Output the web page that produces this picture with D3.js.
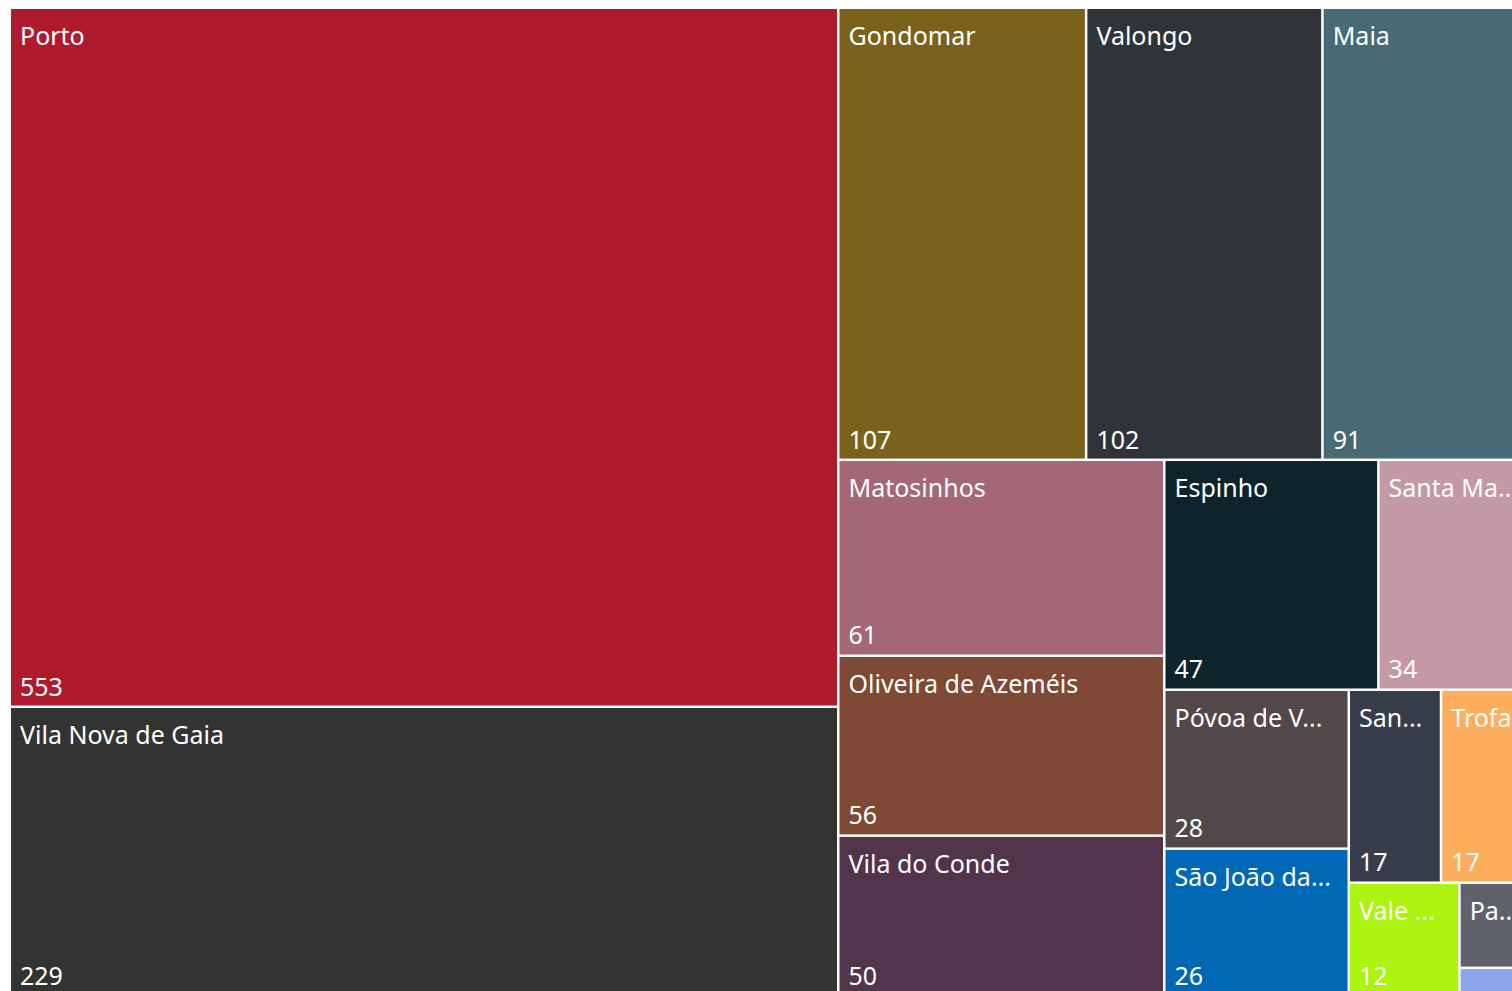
<!DOCTYPE html>
<html><head><meta charset="utf-8">
<script src="https://cdn.jsdelivr.net/npm/d3@7"></script>
<style>
html,body{margin:0;padding:0;background:#fff;overflow:hidden;}
svg{display:block;}
text{font-family:"Segoe UI","Noto Sans","Open Sans",sans-serif;fill:#fff;}
</style></head>
<body>
<svg id="chart" width="1512" height="991"></svg>
<script>
const categories = ["Porto","Vila Nova de Gaia","Gondomar","Valongo","Maia","Matosinhos","Oliveira de Azeméis","Vila do Conde","Espinho","Santa Maria da Feira","Póvoa de Varzim","São João da Madeira","Santo Tirso","Trofa","Vale de Cambra","Paredes","Arouca"];
const values = [553,229,107,102,91,61,56,50,47,34,28,26,17,17,12,6,2];
const colors = ["#B01A2D","#333333","#7A621D","#2E3438","#486A75","#A46777","#7E4A36","#52344D","#0D242C","#C499A6","#524849","#0068B5","#373D4A","#FCAE5C","#ACF40F","#5F626C","#8BA6EA"];

const X0 = 11, Y0 = 9, W = 1521, H = 986;
const svg = d3.select("#chart");
const data = {name:"root", children: categories.map((c,i)=>({name:c, value:values[i], color:colors[i]}))};
const root = d3.hierarchy(data).sum(d=>d.value||0).sort((a,b)=>b.value-a.value);
d3.treemap().tile(d3.treemapSquarify).size([W,H]).paddingInner(2.5).round(false)(root);

const g = svg.append("g").attr("transform",`translate(${X0},${Y0})`);
const leaf = g.selectAll("g.leaf").data(root.leaves()).join("g").attr("class","leaf")
  .attr("transform",d=>`translate(${d.x0},${d.y0})`);
leaf.append("rect").attr("width",d=>d.x1-d.x0).attr("height",d=>d.y1-d.y0).attr("fill",d=>d.data.color);

const FS = 25;
function fit(sel, txt, maxW){
  sel.text(txt);
  if (sel.node().getComputedTextLength() <= maxW) return;
  let s = txt;
  while (s.length>0){
    s = s.slice(0,-1);
    sel.text(s + "...");
    if (sel.node().getComputedTextLength() <= maxW) return;
  }
  sel.text("");
}
leaf.each(function(d){
  const w = d.x1-d.x0, h = d.y1-d.y0;
  const el = d3.select(this);
  const maxW = w - 20;
  if (h > 40){
    const t = el.append("text").attr("x",9).attr("y",36).attr("font-size",FS);
    fit(t, d.data.name, maxW);
  }
  if (h > 95){
    const v = el.append("text").attr("x",9).attr("y",h - 10).attr("font-size",FS);
    fit(v, String(d.data.value), maxW);
  }
});
</script>
</body></html>
